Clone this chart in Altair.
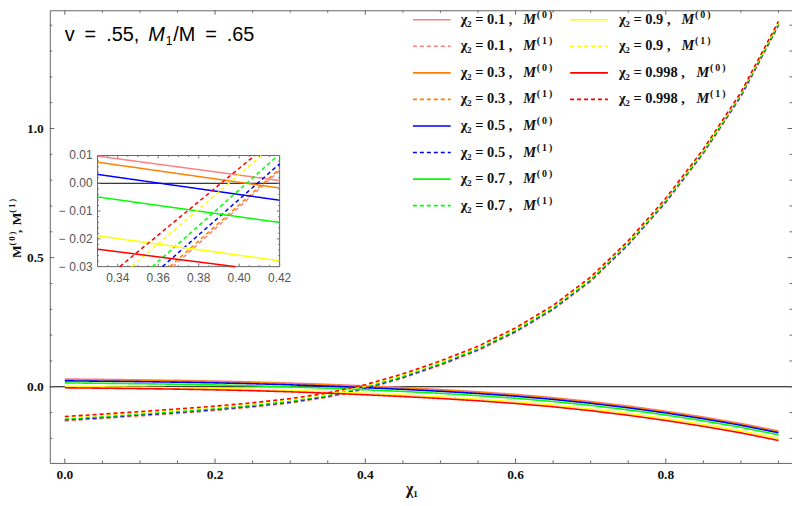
import altair as alt
import pandas as pd

# ---------------- data ----------------
X1 = [0.00, 0.05, 0.10, 0.15, 0.20, 0.25, 0.30, 0.35, 0.40, 0.45,
      0.50, 0.55, 0.60, 0.65, 0.70, 0.75, 0.80, 0.85, 0.90, 0.95]
CHI2 = ["0.1", "0.3", "0.5", "0.7", "0.9", "0.998"]
COLORS = ["#FF8080", "#FF8000", "#0000FF", "#00FF00", "#FFFF00", "#FF0000"]

# M^(0)  (solid)
M0_01 = [0.0300, 0.0285, 0.0268, 0.0248, 0.0222, 0.0188, 0.0145, 0.0095, 0.0035, -0.0030,
         -0.0105, -0.0192, -0.0295, -0.0420, -0.0570, -0.0745, -0.0945, -0.1170, -0.1420, -0.1710]
M0_03 = [0.0275, 0.0260, 0.0243, 0.0223, 0.0197, 0.0163, 0.0120, 0.0070, 0.0010, -0.0055,
         -0.0130, -0.0217, -0.0320, -0.0445, -0.0595, -0.0770, -0.0970, -0.1195, -0.1445, -0.1735]
M0_05 = [0.0230, 0.0215, 0.0198, 0.0178, 0.0152, 0.0118, 0.0075, 0.0025, -0.0035, -0.0100,
         -0.0175, -0.0262, -0.0365, -0.0490, -0.0640, -0.0815, -0.1015, -0.1240, -0.1490, -0.1780]
M0_07 = [0.0150, 0.0135, 0.0118, 0.0098, 0.0072, 0.0038, -0.0005, -0.0055, -0.0115, -0.0180,
         -0.0255, -0.0342, -0.0445, -0.0570, -0.0720, -0.0895, -0.1095, -0.1320, -0.1570, -0.1860]
M0_09 = [0.0010, -0.0005, -0.0022, -0.0042, -0.0068, -0.0102, -0.0145, -0.0195, -0.0255, -0.0320,
         -0.0395, -0.0482, -0.0585, -0.0710, -0.0860, -0.1035, -0.1235, -0.1460, -0.1710, -0.2000]
M0_0998 = [-0.0040, -0.0055, -0.0072, -0.0092, -0.0118, -0.0152, -0.0195, -0.0248, -0.0310, -0.0377,
           -0.0454, -0.0543, -0.0648, -0.0775, -0.0927, -0.1104, -0.1306, -0.1533, -0.1785, -0.2080]

# M^(1)  (dashed)
M1_01 = [-0.132, -0.123, -0.113, -0.103, -0.092, -0.079, -0.063, -0.041, -0.009, 0.033,
         0.083, 0.140, 0.211, 0.298, 0.408, 0.548, 0.713, 0.903, 1.123, 1.398]
M1_03 = [-0.130, -0.121, -0.111, -0.101, -0.090, -0.077, -0.061, -0.039, -0.007, 0.035,
         0.085, 0.142, 0.213, 0.300, 0.410, 0.550, 0.715, 0.905, 1.125, 1.400]
M1_05 = [-0.128, -0.119, -0.109, -0.099, -0.088, -0.075, -0.059, -0.037, -0.005, 0.037,
         0.087, 0.144, 0.215, 0.302, 0.412, 0.552, 0.717, 0.907, 1.127, 1.402]
M1_07 = [-0.125, -0.116, -0.106, -0.096, -0.085, -0.072, -0.056, -0.034, -0.002, 0.040,
         0.090, 0.147, 0.218, 0.305, 0.415, 0.555, 0.720, 0.910, 1.130, 1.405]
M1_09 = [-0.119, -0.110, -0.100, -0.090, -0.079, -0.066, -0.050, -0.028, 0.004, 0.046,
         0.096, 0.153, 0.224, 0.311, 0.421, 0.561, 0.726, 0.916, 1.136, 1.411]
M1_0998 = [-0.115, -0.106, -0.096, -0.086, -0.075, -0.062, -0.046, -0.024, 0.008, 0.050,
           0.100, 0.157, 0.228, 0.315, 0.425, 0.565, 0.730, 0.920, 1.140, 1.415]

M0 = dict(zip(CHI2, [M0_01, M0_03, M0_05, M0_07, M0_09, M0_0998]))
M1 = dict(zip(CHI2, [M1_01, M1_03, M1_05, M1_07, M1_09, M1_0998]))

# inset (zoom on 0.33..0.42 x -0.03..0.01), segment end points
INSET_X_DOMAIN = [0.33, 0.42]
INSET_Y_DOMAIN = [-0.03, 0.01]
INSET_M0_X = {"0.1": [0.33, 0.42], "0.3": [0.33, 0.42], "0.5": [0.33, 0.42],
              "0.7": [0.33, 0.42], "0.9": [0.33, 0.42], "0.998": [0.33, 0.398]}
INSET_M0_Y = {"0.1": [0.0098, 0.0010], "0.3": [0.0076, -0.0017], "0.5": [0.0032, -0.0061],
              "0.7": [-0.0049, -0.0141], "0.9": [-0.0189, -0.0279], "0.998": [-0.0237, -0.0300]}
INSET_M1_X = {"0.1": [0.3673, 0.42], "0.3": [0.3657, 0.42], "0.5": [0.3621, 0.42],
              "0.7": [0.3571, 0.4192], "0.9": [0.3468, 0.4109], "0.998": [0.3410, 0.4077]}
INSET_M1_Y = {"0.1": [-0.03, 0.0046], "0.3": [-0.03, 0.0052], "0.5": [-0.03, 0.0070],
              "0.7": [-0.03, 0.0100], "0.9": [-0.03, 0.0100], "0.998": [-0.03, 0.0100]}

# axes / ticks
X_DOMAIN = [-0.020, 0.968]
Y_DOMAIN = [-0.295, 1.458]
X_MAJOR = [0.0, 0.2, 0.4, 0.6, 0.8]
X_LABELS = ["0.0", "0.2", "0.4", "0.6", "0.8"]
X_MINOR = [0.05, 0.10, 0.15, 0.25, 0.30, 0.35, 0.45, 0.50, 0.55, 0.65, 0.70, 0.75, 0.85, 0.90, 0.95]
Y_MAJOR = [0.0, 0.5, 1.0]
Y_LABELS = ["0.0", "0.5", "1.0"]
Y_MINOR = [-0.2, -0.1, 0.1, 0.2, 0.3, 0.4, 0.6, 0.7, 0.8, 0.9, 1.1, 1.2, 1.3, 1.4]
IX_MAJOR = [0.34, 0.36, 0.38, 0.40, 0.42]
IX_LABELS = ["0.34", "0.36", "0.38", "0.40", "0.42"]
IX_MINOR = [0.335, 0.345, 0.35, 0.355, 0.365, 0.37, 0.375, 0.385, 0.39, 0.395, 0.405, 0.41, 0.415]
IY_MAJOR = [-0.03, -0.02, -0.01, 0.0, 0.01]
IY_LABELS = ["\u2212 0.03", "\u2212 0.02", "\u2212 0.01", "0.00", "0.01"]
IY_MINOR = [-0.028, -0.026, -0.024, -0.022, -0.018, -0.016, -0.014, -0.012, -0.008, -0.006,
            -0.004, -0.002, 0.002, 0.004, 0.006, 0.008]

TITLE_PARTS = ["v\u2002=\u2002.55,", "M", "1", "/M\u2002=\u2002.65"]
X_TITLE = "χ₁"
SUP0 = "(\u20090\u2009)"
SUP1 = "(\u20091\u2009)"

# ---------------- layout constants ----------------
W, H = 746, 455
SERIF = "Liberation Serif"
SANS = "Liberation Sans"
FRAME = "#666666"
IX_RANGE = [48, 231]
IY_RANGE = [257.7, 146]

# ---------------- tables ----------------
rows = []
for chi in CHI2:
    for kind, table in (("M0", M0), ("M1", M1)):
        for x, y in zip(X1, table[chi]):
            rows.append(dict(x=x, y=y, chi=chi, kind=kind, series=f"{chi}-{kind}"))
df = pd.DataFrame(rows)

irows = []
for chi in CHI2:
    for kind, tx, ty in (("M0", INSET_M0_X, INSET_M0_Y), ("M1", INSET_M1_X, INSET_M1_Y)):
        for x, y in zip(tx[chi], ty[chi]):
            irows.append(dict(x=x, y=y, chi=chi, kind=kind, series=f"{chi}-{kind}"))
idf = pd.DataFrame(irows)

XS = alt.Scale(domain=X_DOMAIN, nice=False, zero=False)
YS = alt.Scale(domain=Y_DOMAIN, nice=False, zero=False)
IXS = alt.Scale(domain=INSET_X_DOMAIN, range=IX_RANGE, nice=False, zero=False)
IYS = alt.Scale(domain=INSET_Y_DOMAIN, range=IY_RANGE, nice=False, zero=False)
CS = alt.Scale(domain=CHI2, range=COLORS)
DS = alt.Scale(domain=["M0", "M1"], range=[[1, 0], [4, 3]])

zero = alt.Chart(pd.DataFrame({"y": [0.0]})).mark_rule(color="black", strokeWidth=1).encode(
    y=alt.Y("y:Q", scale=YS, axis=None))

lines = alt.Chart(df).mark_line(strokeWidth=1.6).encode(
    x=alt.X("x:Q", scale=XS, axis=None),
    y=alt.Y("y:Q", scale=YS, axis=None),
    color=alt.Color("chi:N", scale=CS, legend=None),
    strokeDash=alt.StrokeDash("kind:N", scale=DS, legend=None),
    detail="series:N",
)


def yticks(vals, x0, x1, scale, color=FRAME):
    return alt.Chart(pd.DataFrame({"v": vals})).mark_rule(color=color, strokeWidth=1).encode(
        y=alt.Y("v:Q", scale=scale, axis=None), x=alt.value(x0), x2=alt.value(x1))


def xticks(vals, y0, y1, scale, color=FRAME):
    return alt.Chart(pd.DataFrame({"v": vals})).mark_rule(color=color, strokeWidth=1).encode(
        x=alt.X("v:Q", scale=scale, axis=None), y=alt.value(y0), y2=alt.value(y1))


ticks = [
    yticks(Y_MAJOR, 0, 4.5, YS), yticks(Y_MINOR, 0, 2.5, YS),
    yticks(Y_MAJOR, W, W - 4.5, YS), yticks(Y_MINOR, W, W - 2.5, YS),
    xticks(X_MAJOR, H, H - 4.5, XS), xticks(X_MINOR, H, H - 2.5, XS),
    xticks(X_MAJOR, 0, 4.5, XS), xticks(X_MINOR, 0, 2.5, XS),
]

# axis labels drawn as text through the scales
x_lab = alt.Chart(pd.DataFrame({"v": X_MAJOR, "lab": X_LABELS})).mark_text(
    align="center", baseline="middle", font=SERIF, fontSize=13.5, fontWeight="bold",
    color="#111").encode(x=alt.X("v:Q", scale=XS, axis=None), y=alt.value(H + 12), text="lab:N")
y_lab = alt.Chart(pd.DataFrame({"v": Y_MAJOR, "lab": Y_LABELS})).mark_text(
    align="right", baseline="middle", font=SERIF, fontSize=13.5, fontWeight="bold",
    color="#111").encode(y=alt.Y("v:Q", scale=YS, axis=None), x=alt.value(-6), text="lab:N")


def txt(s, x, y, size, font=SANS, style="normal", weight="normal", align="left",
        baseline="alphabetic", color="black", angle=0):
    return alt.Chart(pd.DataFrame({"t": [s]})).mark_text(
        align=align, baseline=baseline, font=font, fontSize=size, fontStyle=style,
        fontWeight=weight, color=color, angle=angle).encode(
        x=alt.value(x), y=alt.value(y), text="t:N")


title = [
    txt(TITLE_PARTS[0], 15, 31, 20),
    txt(TITLE_PARTS[1], 99, 31, 20, style="italic"),
    txt(TITLE_PARTS[2], 116.5, 35, 12),
    txt(TITLE_PARTS[3], 124, 31, 20),
]

axis_titles = [
    txt(X_TITLE, 364, H + 26, 16, font=SERIF, weight="bold", align="center",
        baseline="middle", color="#111"),
    # rotated y-axis title  M(0) , M(1)
    txt("M", -29, 249, 13.5, font=SERIF, weight="bold", angle=270, color="#111"),
    txt(SUP0, -34.5, 236.5, 9, font=SERIF, weight="bold", angle=270, color="#111"),
    txt(",", -29, 224, 13.5, font=SERIF, weight="bold", angle=270, color="#111"),
    txt("M", -29, 216, 13.5, font=SERIF, weight="bold", angle=270, color="#111"),
    txt(SUP1, -34.5, 203.5, 9, font=SERIF, weight="bold", angle=270, color="#111"),
]

# manual two-column legend (column-major like the original)
lrows = []
i = 0
for chi in CHI2:
    for kind in ("M0", "M1"):
        col = 0 if i < 8 else 1
        row = i if col == 0 else i - 8
        tx = 413 + col * 159
        mx = tx + 63 + 7.5 * (len(chi) - 3)
        lrows.append(dict(chi=chi, kind=kind,
                          lx0=365 + col * 158, lx1=403 + col * 158,
                          ly=9.5 + row * 26.7, sy=4.5 + row * 26.7,
                          tx=tx, mx=mx, sx=mx + 13.5,
                          lab=f"χ₂ = {chi} ,",
                          sup=SUP0 if kind == "M0" else SUP1))
        i += 1
ldf = pd.DataFrame(lrows)

leg_lines = alt.Chart(ldf).mark_rule(strokeWidth=1.6).encode(
    x=alt.X("lx0:Q", scale=None, axis=None), x2="lx1:Q",
    y=alt.Y("ly:Q", scale=None, axis=None),
    color=alt.Color("chi:N", scale=CS, legend=None),
    strokeDash=alt.StrokeDash("kind:N", scale=DS, legend=None))
leg_text = alt.Chart(ldf).mark_text(align="left", baseline="middle", font=SERIF, fontSize=14.5,
                                    fontWeight="bold", color="#111").encode(
    x=alt.X("tx:Q", scale=None, axis=None), y=alt.Y("ly:Q", scale=None, axis=None), text="lab:N")
leg_m = alt.Chart(ldf).mark_text(align="left", baseline="middle", font=SERIF, fontSize=14.5,
                                 fontWeight="bold", fontStyle="italic", color="#111").encode(
    x=alt.X("mx:Q", scale=None, axis=None), y=alt.Y("ly:Q", scale=None, axis=None),
    text=alt.value("M"))
leg_sup = alt.Chart(ldf).mark_text(align="left", baseline="middle", font=SERIF, fontSize=10,
                                   fontWeight="bold", color="#111").encode(
    x=alt.X("sx:Q", scale=None, axis=None), y=alt.Y("sy:Q", scale=None, axis=None), text="sup:N")

main = alt.layer(zero, lines, *ticks, x_lab, y_lab, *title, *axis_titles,
                 leg_lines, leg_text, leg_m, leg_sup)

# ---------------- inset ----------------
frame_df = pd.DataFrame({"x0": [INSET_X_DOMAIN[0]], "x1": [INSET_X_DOMAIN[1]],
                         "y0": [INSET_Y_DOMAIN[0]], "y1": [INSET_Y_DOMAIN[1]], "z": [0.0]})
i_bg = alt.Chart(frame_df).mark_rect(fill="white", stroke=FRAME, strokeWidth=1).encode(
    x=alt.X("x0:Q", scale=IXS, axis=None), x2="x1:Q",
    y=alt.Y("y0:Q", scale=IYS, axis=None), y2="y1:Q")
i_zero = alt.Chart(frame_df).mark_rule(color="black", strokeWidth=1).encode(
    x=alt.X("x0:Q", scale=IXS, axis=None), x2="x1:Q",
    y=alt.Y("z:Q", scale=IYS, axis=None))
i_lines = alt.Chart(idf).mark_line(strokeWidth=1.5).encode(
    x=alt.X("x:Q", scale=IXS, axis=None),
    y=alt.Y("y:Q", scale=IYS, axis=None),
    color=alt.Color("chi:N", scale=CS, legend=None),
    strokeDash=alt.StrokeDash("kind:N", scale=DS, legend=None),
    detail="series:N")
ic = "#777777"
i_ticks = [
    yticks(IY_MAJOR, IX_RANGE[0], IX_RANGE[0] + 3, IYS, ic),
    yticks(IY_MINOR, IX_RANGE[0], IX_RANGE[0] + 1.5, IYS, ic),
    yticks(IY_MAJOR, IX_RANGE[1], IX_RANGE[1] - 3, IYS, ic),
    yticks(IY_MINOR, IX_RANGE[1], IX_RANGE[1] - 1.5, IYS, ic),
    xticks(IX_MAJOR, IY_RANGE[0], IY_RANGE[0] - 3, IXS, ic),
    xticks(IX_MINOR, IY_RANGE[0], IY_RANGE[0] - 1.5, IXS, ic),
    xticks(IX_MAJOR, IY_RANGE[1], IY_RANGE[1] + 3, IXS, ic),
    xticks(IX_MINOR, IY_RANGE[1], IY_RANGE[1] + 1.5, IXS, ic),
]
iy_lab = alt.Chart(pd.DataFrame({"v": IY_MAJOR, "lab": IY_LABELS})).mark_text(
    align="right", baseline="middle", font=SANS, fontSize=12, color="#555").encode(
    y=alt.Y("v:Q", scale=IYS, axis=None), x=alt.value(IX_RANGE[0] - 5), text="lab:N")
ix_lab = alt.Chart(pd.DataFrame({"v": IX_MAJOR, "lab": IX_LABELS})).mark_text(
    align="center", baseline="middle", font=SANS, fontSize=12, color="#555").encode(
    x=alt.X("v:Q", scale=IXS, axis=None), y=alt.value(IY_RANGE[0] + 11), text="lab:N")

inset = alt.layer(i_bg, i_zero, i_lines, *i_ticks, iy_lab, ix_lab)

chart = alt.layer(main, inset).resolve_scale(x="independent", y="independent").properties(
    width=W, height=H,
    autosize=alt.AutoSizeParams(type="none"),
    padding={"left": 42, "top": 1, "right": 0, "bottom": 40},
).configure_view(stroke=FRAME, strokeWidth=1)

chart.save("out.html", embed_options={"renderer": "svg", "actions": False})
